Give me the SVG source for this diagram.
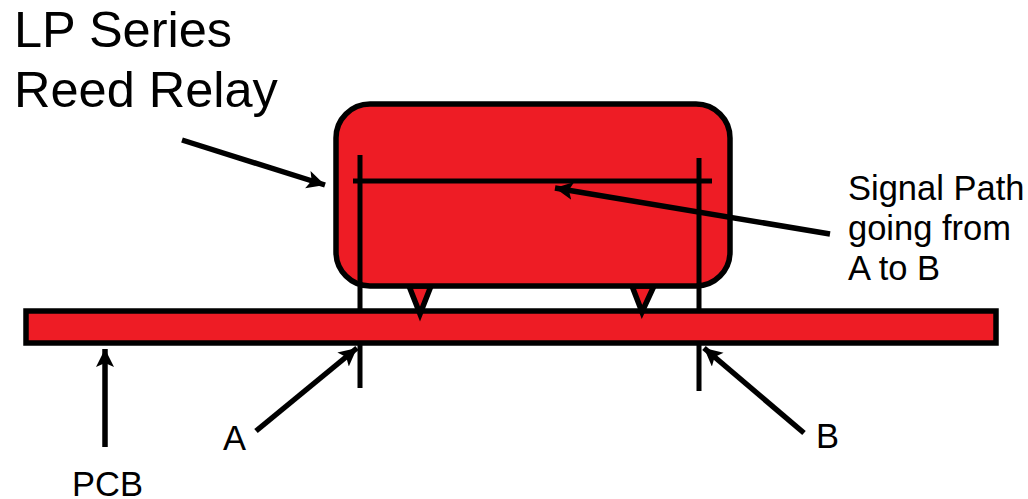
<svg xmlns="http://www.w3.org/2000/svg" width="1028" height="499" viewBox="0 0 1028 499">
<style>
.b{fill:#ee1c25;stroke:#000;stroke-width:5.5}
.l{fill:none;stroke:#000;stroke-width:5}
.a{fill:none;stroke:#000;stroke-width:5.5;marker-end:url(#h)}
text{font-family:"Liberation Sans",Arial,sans-serif;fill:#000}
.big{font-size:50.5px}
.mid{font-size:34.5px}
</style>
<defs>
<marker id="h" markerUnits="userSpaceOnUse" markerWidth="22" markerHeight="22" refX="18" refY="9" orient="auto">
<path d="M0 0L18 9L0 18L4 9Z" fill="#000"/>
</marker>
</defs>
<g id="pcb"><rect class="b" x="26" y="311" width="970" height="32"/></g>
<g id="pins">
<path class="b" d="M409 286L420 314L431 286Z"/>
<path class="b" d="M632 286L642 312L654 286Z"/>
</g>
<g id="relay"><rect class="b" x="336" y="104" width="394" height="182" rx="34" ry="34"/></g>
<g id="signal-path">
<path class="l" d="M360 155V311M360 343V388"/>
<path class="l" d="M699 158V311M699 343V391"/>
<path class="l" d="M353 181H712"/>
</g>
<g id="connectors">
<path class="a" d="M182 140L325 185"/>
<path class="a" d="M830 234L555 188"/>
<path class="a" d="M105 447V349"/>
<path class="a" d="M256 431L357 348"/>
<path class="a" d="M804 433L704 348"/>
</g>
<g id="labels">
<text class="big" x="14" y="47">LP Series</text>
<text class="big" x="14" y="107">Reed Relay</text>
<text class="mid" x="848" y="200">Signal Path</text>
<text class="mid" x="848" y="240">going from</text>
<text class="mid" x="848" y="280">A to B</text>
<text class="mid" x="223" y="450">A</text>
<text class="mid" x="816" y="448">B</text>
<text class="mid" x="72" y="496">PCB</text>
</g>
</svg>
